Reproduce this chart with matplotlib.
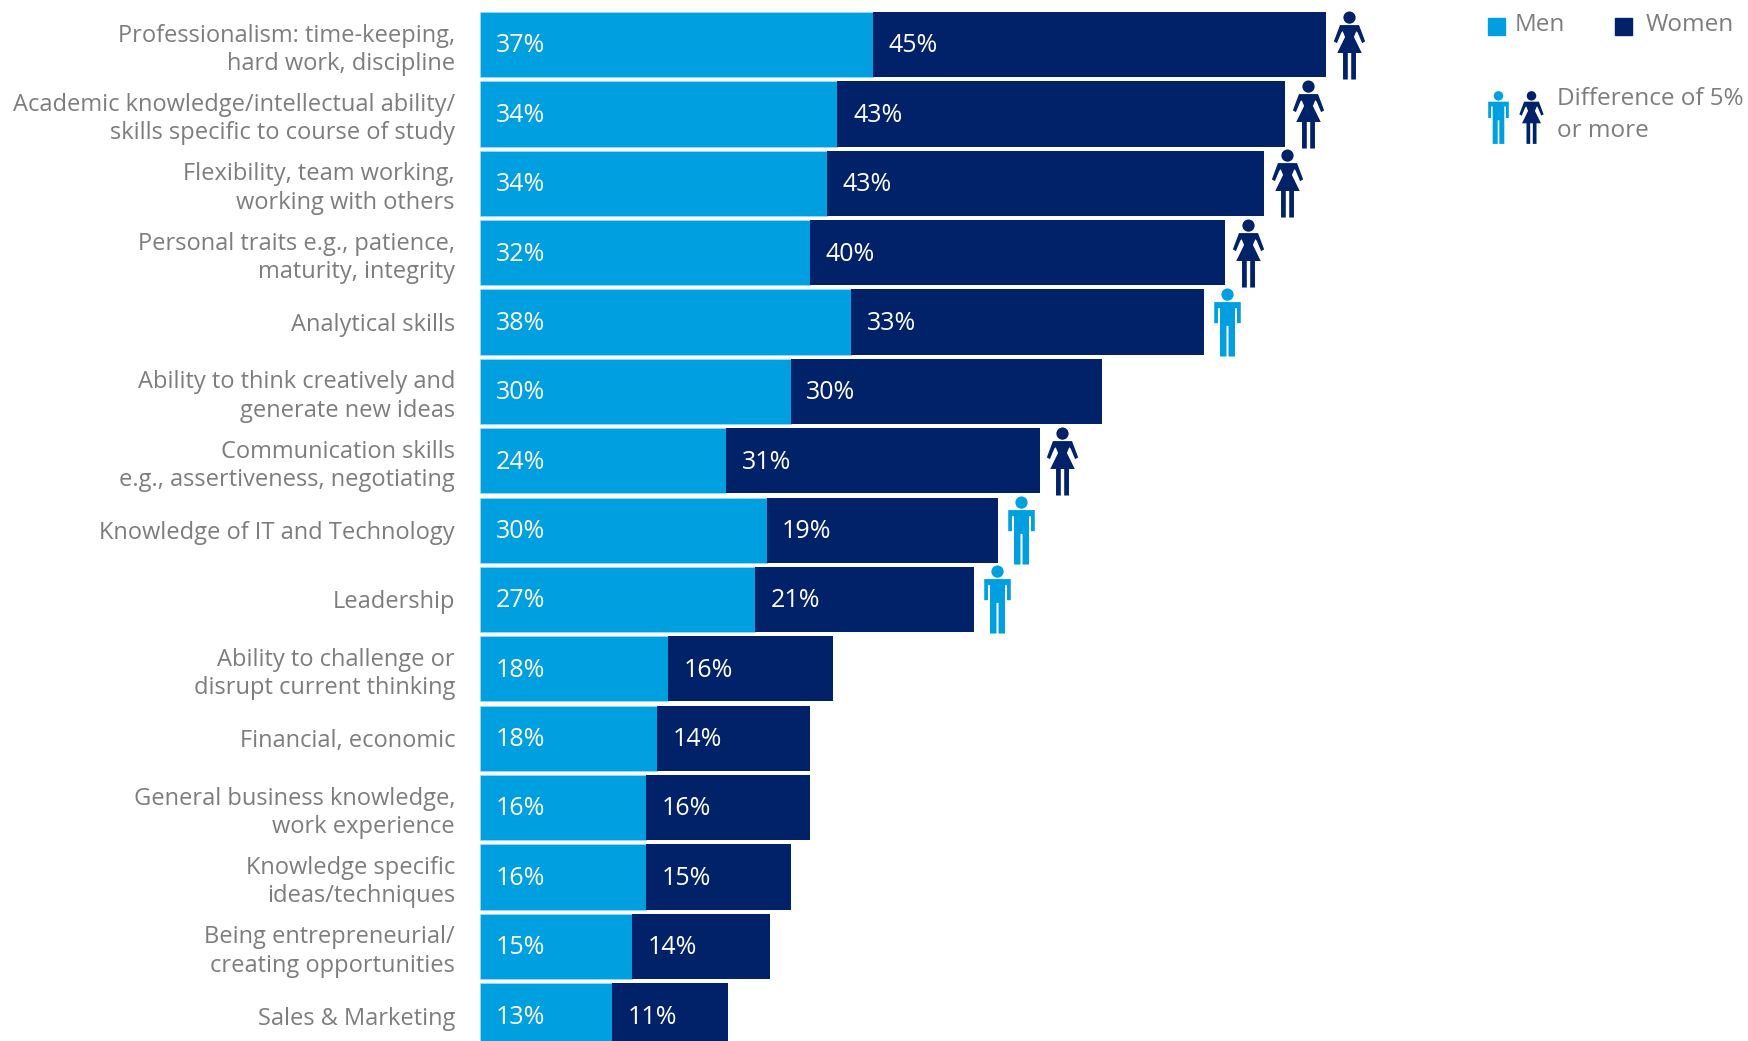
import numpy as np
import matplotlib
matplotlib.use("Agg")
import matplotlib.pyplot as plt
from matplotlib.patches import Rectangle
from matplotlib.path import Path

W, H = 1748, 1041
MEN_COL = "#009fdf"
WOMEN_COL = "#012169"
TEXT_COL = "#7d7d7d"

labels = [
    "Professionalism: time-keeping,\nhard work, discipline",
    "Academic knowledge/intellectual ability/\nskills specific to course of study",
    "Flexibility, team working,\nworking with others",
    "Personal traits e.g., patience,\nmaturity, integrity",
    "Analytical skills",
    "Ability to think creatively and\ngenerate new ideas",
    "Communication skills\ne.g., assertiveness, negotiating",
    "Knowledge of IT and Technology",
    "Leadership",
    "Ability to challenge or\ndisrupt current thinking",
    "Financial, economic",
    "General business knowledge,\nwork experience",
    "Knowledge specific\nideas/techniques",
    "Being entrepreneurial/\ncreating opportunities",
    "Sales & Marketing",
]
# printed percentages
men_pct = [37, 34, 34, 32, 38, 30, 24, 30, 27, 18, 18, 16, 16, 15, 13]
women_pct = [45, 43, 43, 40, 33, 30, 31, 19, 21, 16, 14, 16, 15, 14, 11]
# drawn bar lengths (they do not follow the print exactly)
men_len = [37.7, 34.3, 33.3, 31.7, 35.6, 29.8, 23.6, 27.5, 26.4, 18.0, 17.0, 15.9, 15.9, 14.6, 12.7]
women_len = [43.5, 43.0, 41.9, 39.8, 33.9, 29.9, 30.1, 22.2, 21.0, 15.9, 14.7, 15.8, 13.9, 13.2, 11.1]
# who gets the little figure at the bar end
flags = ["w", "w", "w", "w", "m", "", "w", "m", "m", "", "", "", "", "", ""]


def make_person(kind):
    head = Path.circle((0, 0.82), 0.18)
    if kind == "w":
        body = [(-0.28, 0.6), (0.28, 0.6), (0.46, 0.12), (0.37, 0.07), (0.24, 0.38), (0.2, 0.42),
                (0.13, 0.25), (0.36, -0.22), (0.19, -0.22), (0.19, -1), (0.05, -1), (0.05, -0.22),
                (-0.05, -0.22), (-0.05, -1), (-0.19, -1), (-0.19, -0.22), (-0.36, -0.22),
                (-0.13, 0.25), (-0.2, 0.42), (-0.24, 0.38), (-0.37, 0.07), (-0.46, 0.12)]
    else:
        body = [(-0.39, 0.6), (0.39, 0.6), (0.39, -0.02), (0.28, -0.02), (0.28, 0.42), (0.22, 0.42),
                (0.22, -1), (0.03, -1), (0.03, -0.1), (-0.03, -0.1), (-0.03, -1), (-0.22, -1),
                (-0.22, 0.42), (-0.28, 0.42), (-0.28, -0.02), (-0.39, -0.02)]
    return Path.make_compound_path(head, Path(body + [body[0]], closed=True))


WOMAN = make_person("w")
MAN = make_person("m")

plt.rcParams["font.family"] = ["Open Sans", "DejaVu Sans"]

fig = plt.figure(figsize=(W / 100, H / 100), dpi=100)
ax = fig.add_axes([480 / W, 0, (W - 480) / W, 1])

y = np.arange(len(labels))
men_len = np.array(men_len)
women_len = np.array(women_len)

ax.barh(y, men_len, height=0.94, color=MEN_COL, edgecolor="#8fdcf5", linewidth=0.7)
ax.barh(y, women_len, left=men_len, height=0.94, color=WOMEN_COL)

for i in y:
    ax.text(1.5, i + 0.02, f"{men_pct[i]}%", color="white", fontsize=18, va="center", ha="left")
    ax.text(men_len[i] + 1.5, i + 0.02, f"{women_pct[i]}%", color="white", fontsize=18, va="center", ha="left")
    if flags[i]:
        ax.plot(men_len[i] + women_len[i] + 2.2, i, marker=WOMAN if flags[i] == "w" else MAN,
                ms=49, mew=0, color=WOMEN_COL if flags[i] == "w" else MEN_COL,
                clip_on=False, ls="none")

ax.set_xlim(0, (W - 480) / 10.42)
ax.set_ylim((H - 44.6) / 69.36, -44.6 / 69.36)
ax.set_yticks(y, labels, fontsize=17, color=TEXT_COL, linespacing=1.25)
ax.tick_params(axis="y", length=0, pad=18)
ax.set_xticks([])
for s in ax.spines.values():
    s.set_visible(False)


# legend block, placed by hand in pixels from the top left
def fx(px):
    return px / W


def fy(px):
    return 1 - px / H


fig.add_artist(Rectangle((fx(1488), fy(35)), 17 / W, 17 / H, color=MEN_COL, transform=fig.transFigure))
fig.add_artist(Rectangle((fx(1615), fy(35)), 17 / W, 17 / H, color=WOMEN_COL, transform=fig.transFigure))
fig.text(fx(1515), fy(25), "Men", color=TEXT_COL, fontsize=17.5, va="center")
fig.text(fx(1646), fy(25), "Women", color=TEXT_COL, fontsize=17.5, va="center")
fig.text(fx(1557), fy(99), "Difference of 5%", color=TEXT_COL, fontsize=17.5, va="center")
fig.text(fx(1557), fy(131), "or more", color=TEXT_COL, fontsize=17.5, va="center")

ax_leg = fig.add_axes([0, 0, 1, 1], facecolor="none")
ax_leg.set_xlim(0, W)
ax_leg.set_ylim(H, 0)
ax_leg.axis("off")
ax_leg.plot(1498, 117, marker=MAN, ms=38, mew=0, color=MEN_COL, ls="none")
ax_leg.plot(1531, 117, marker=WOMAN, ms=38, mew=0, color=WOMEN_COL, ls="none")

fig.savefig("out.png", dpi=100)
